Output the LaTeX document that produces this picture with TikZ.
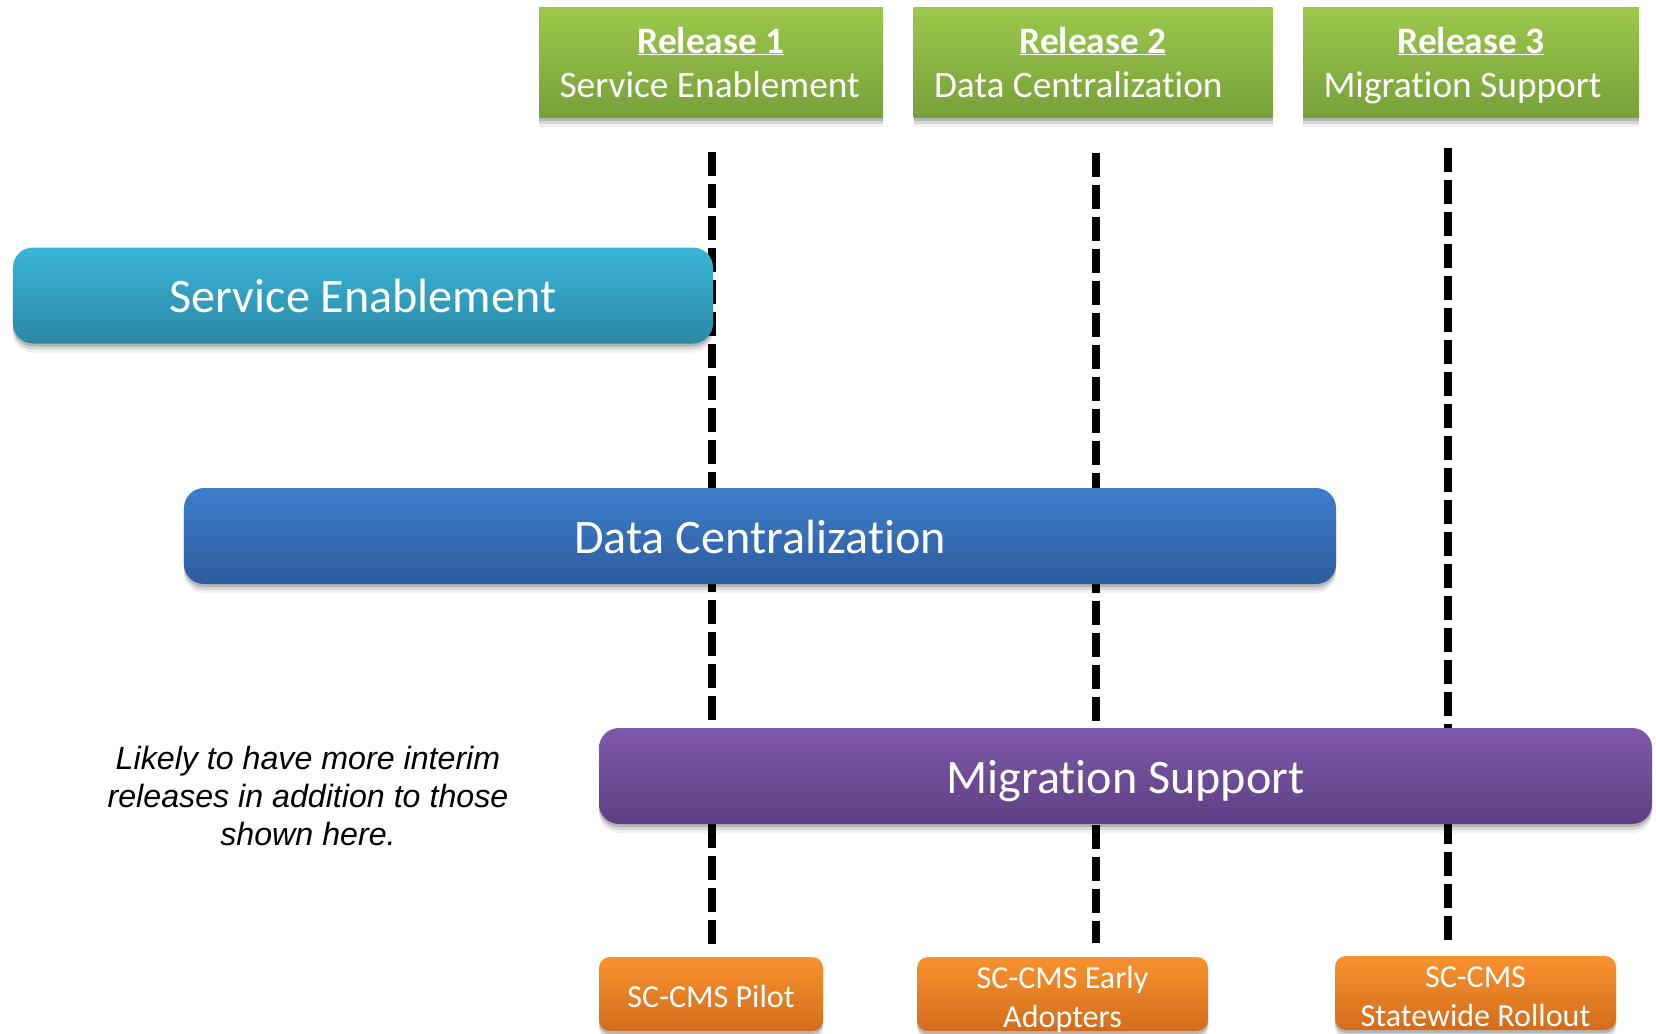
\documentclass[tikz,border=0pt]{standalone}
\usepackage{fontspec}
\setmainfont{Carlito}[Ligatures=NoCommon]
\newfontfamily\notefont{Liberation Sans}
\usetikzlibrary{shadows}

\definecolor{greentop}{HTML}{9CC84B}
\definecolor{greenbot}{HTML}{77A03A}
\definecolor{cyantop}{HTML}{3AB5D9}
\definecolor{cyanbot}{HTML}{2A89A5}
\definecolor{bluetop}{HTML}{3D7ECE}
\definecolor{bluebot}{HTML}{2D5C9C}
\definecolor{purpletop}{HTML}{7E59A9}
\definecolor{purplebot}{HTML}{5E3F83}
\definecolor{orangetop}{HTML}{F9932F}
\definecolor{orangebot}{HTML}{D26C1C}

% centred, underlined title line above a left-aligned subtitle
\newcommand{\headline}[1]{\spaceskip=0pt\relax\xspaceskip=0pt\relax
  \hyphenpenalty=10000\relax
  \noindent\makebox[\hsize]{\textbf{\underline{#1}}}}

\tikzset{
  softshadow/.style={
    drop shadow={shadow xshift=0bp,shadow yshift=-3bp,opacity=.16,fill=black},
    drop shadow={shadow xshift=0bp,shadow yshift=-6bp,opacity=.10,fill=black},
    drop shadow={shadow xshift=0bp,shadow yshift=-9bp,opacity=.06,fill=black}},
  release/.style={minimum height=110bp, inner xsep=20.5bp, inner ysep=0pt,
    text width=#1, align=left, text height=45bp, text depth=64bp,
    top color=greentop, bottom color=greenbot, text=white,
    font=\fontsize{37.5}{44.5}\selectfont, softshadow},
  phase/.style={minimum height=96bp, inner sep=0pt, rounded corners=20bp,
    text height=34bp, text depth=0bp,
    text=white, font=\fontsize{48.3}{58}\selectfont, softshadow},
  milestone/.style={minimum height=74bp, inner sep=0pt, rounded corners=11bp,
    align=center, top color=orangetop, bottom color=orangebot, text=white,
    font=\fontsize{32.2}{38.5}\selectfont, softshadow},
  oneline/.style={text height=26bp, text depth=0bp},
  twoline/.style={text height=68bp, text depth=2bp},
  releaseline/.style={line width=8bp, dash pattern=on 24bp off 8bp, black},
  note/.style={align=center, font=\notefont\itshape\fontsize{32.3}{38}\selectfont},
}

\begin{document}
\begin{tikzpicture}[x=1bp,y=-1bp]
\useasboundingbox (0,0) rectangle (1656,1033);

% release marker lines (behind the phase bars)
\coordinate (l1top) at (712,152);
\coordinate (l1bot) at (712,944);
\coordinate (l2top) at (1096,153);
\coordinate (l2bot) at (1096,943);
\coordinate (l3top) at (1448,148);
\coordinate (l3bot) at (1448,940);
\draw[releaseline] (l1top) -- (l1bot);
\draw[releaseline] (l2top) -- (l2bot);
\draw[releaseline] (l3top) -- (l3bot);

% release headers
\node[release=303bp] (r1) at (711,62.5)
  {\headline{Release 1}\\Service Enablement};
\node[release=318bp] (r2) at (1093,62.5)
  {\headline{Release 2}\\Data Centralization};
\node[release=295bp] (r3) at (1471,62.5)
  {\headline{Release 3}\\Migration Support};

% phase bars
\node[phase, minimum width=700bp, top color=cyantop, bottom color=cyanbot]
  (se) at (363,295.5) {Service Enablement};
\node[phase, minimum width=1152bp, top color=bluetop, bottom color=bluebot]
  (dc) at (760,536) {Data Centralization};
\node[phase, minimum width=1053bp, top color=purpletop, bottom color=purplebot]
  (ms) at (1125.5,776) {Migration Support};

% milestones
\node[milestone, oneline, minimum width=224bp] (pilot) at (711,994) {SC-CMS Pilot};
\node[milestone, twoline, minimum width=291bp] (early) at (1062.5,994) {SC-CMS Early\\Adopters};
\node[milestone, twoline, minimum width=281bp] (rollout) at (1475.5,993) {SC-CMS\\Statewide Rollout};

% side note
\node[note] (remark) at (308,796)
  {Likely to have more interim\\releases in addition to those\\shown here.};
\end{tikzpicture}
\end{document}
